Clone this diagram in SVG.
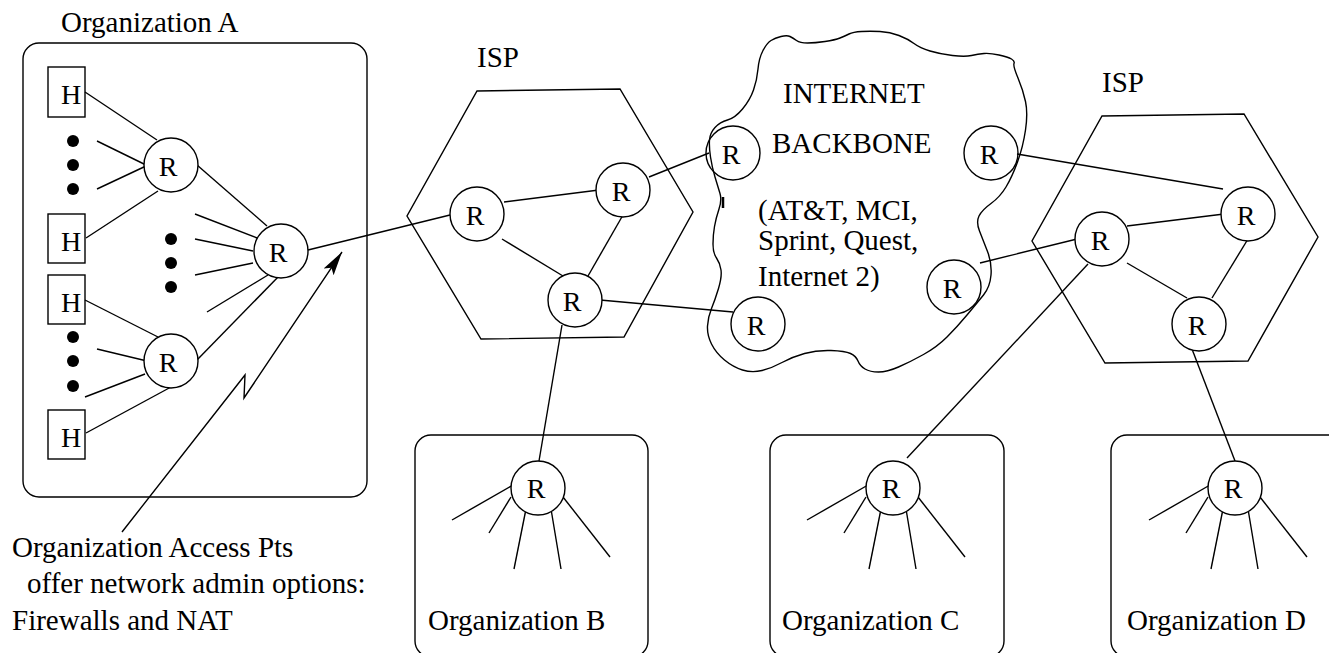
<svg xmlns="http://www.w3.org/2000/svg" width="1329" height="653" viewBox="0 0 1329 653">
<style>
text{font-family:"Liberation Serif","Times New Roman","DejaVu Serif",serif;fill:#000}
.lbl{font-size:29px}
.rt{font-size:28px;text-anchor:middle}
.sh{fill:none;stroke:#000;stroke-width:1.4}
.rc{fill:#fff;stroke:#000;stroke-width:1.4}
.ro{fill:none;stroke:#000;stroke-width:1.4}
.ln{stroke:#000;stroke-width:1.4;fill:none}
.dot{fill:#000}
</style>
<defs>
<marker id="ah" markerWidth="26" markerHeight="14" refX="24" refY="7" orient="auto" markerUnits="userSpaceOnUse">
<path d="M0,1 L24,7 L0,13 L5,7 Z" fill="#000"/>
</marker>
</defs>
<rect width="1329" height="653" fill="#fff"/>

<g id="orgA">
<rect class="sh" x="23" y="43" width="344" height="454" rx="16"/>
<text class="lbl" x="61" y="32">Organization A</text>
<g id="hA1"><rect class="sh" x="48" y="67" width="37" height="50"/><text class="rt" x="71" y="104">H</text></g>
<g id="hA2"><rect class="sh" x="48" y="214" width="37" height="49"/><text class="rt" x="71" y="251">H</text></g>
<g id="hA3"><rect class="sh" x="48" y="275" width="37" height="49"/><text class="rt" x="71" y="312">H</text></g>
<g id="hA4"><rect class="sh" x="48" y="410" width="37" height="49"/><text class="rt" x="71" y="447">H</text></g>
<circle class="dot" cx="73" cy="141" r="6"/><circle class="dot" cx="73" cy="165" r="6"/><circle class="dot" cx="73" cy="189" r="6"/>
<circle class="dot" cx="73" cy="337" r="6"/><circle class="dot" cx="73" cy="361" r="6"/><circle class="dot" cx="73" cy="386" r="6"/>
<circle class="dot" cx="171" cy="239" r="6"/><circle class="dot" cx="171" cy="263" r="6"/><circle class="dot" cx="171" cy="287" r="6"/>
</g>

<g id="connectors">
<line class="ln" x1="85" y1="92" x2="157" y2="140"/>
<line class="ln" x1="97" y1="141" x2="146" y2="165"/>
<line class="ln" x1="97" y1="189" x2="146" y2="166"/>
<line class="ln" x1="86" y1="238" x2="158" y2="191"/>
<line class="ln" x1="197" y1="165" x2="267" y2="226"/>
<line class="ln" x1="195" y1="214" x2="257" y2="238"/>
<line class="ln" x1="195" y1="239" x2="253" y2="251"/>
<line class="ln" x1="195" y1="275" x2="253" y2="263"/>
<line class="ln" x1="207" y1="312" x2="268" y2="275"/>
<line class="ln" x1="197" y1="360" x2="280" y2="275"/>
<line class="ln" x1="85" y1="300" x2="158" y2="337"/>
<line class="ln" x1="97" y1="349" x2="147" y2="361"/>
<line class="ln" x1="85" y1="397" x2="145" y2="374"/>
<line class="ln" x1="86" y1="433" x2="171" y2="387"/>
<line class="ln" x1="308" y1="250" x2="450" y2="215"/>
<polyline class="ln" points="122,532 245,375 244,398 342,252" marker-end="url(#ah)"/>
<line class="ln" x1="504" y1="202" x2="599" y2="190"/>
<line class="ln" x1="502" y1="239" x2="563" y2="276"/>
<line class="ln" x1="623" y1="215" x2="588" y2="276"/>
<line class="ln" x1="649" y1="177" x2="709" y2="153"/>
<line class="ln" x1="600" y1="300" x2="733" y2="312"/>
<line class="ln" x1="562" y1="325" x2="539" y2="461"/>
<line class="ln" x1="1017" y1="154" x2="1223" y2="189"/>
<line class="ln" x1="1127" y1="226" x2="1224" y2="214"/>
<line class="ln" x1="980" y1="263" x2="1077" y2="239"/>
<line class="ln" x1="1088" y1="264" x2="907" y2="458"/>
<line class="ln" x1="1127" y1="263" x2="1187" y2="298"/>
<line class="ln" x1="1248" y1="239" x2="1212" y2="298"/>
<line class="ln" x1="1187" y1="336" x2="1235" y2="461"/>
</g>

<g id="routersA">
<g id="rA1"><circle class="rc" cx="171" cy="165" r="27"/><text class="rt" x="168" y="176">R</text></g>
<g id="rA2"><circle class="rc" cx="281" cy="251" r="27"/><text class="rt" x="278" y="262">R</text></g>
<g id="rA3"><circle class="rc" cx="171" cy="361" r="27"/><text class="rt" x="168" y="372">R</text></g>
</g>

<g id="note">
<text class="lbl" x="12" y="557">Organization Access Pts</text>
<text class="lbl" x="27" y="593">offer network admin options:</text>
<text class="lbl" x="12" y="630">Firewalls and NAT</text>
</g>

<g id="isp1">
<polygon class="sh" points="477,91 620,89 693,212 624,337 481,339 407,216"/>
<text class="lbl" x="477" y="67">ISP</text>
<g id="rI1a"><circle class="rc" cx="477" cy="214" r="27"/><text class="rt" x="475" y="225">R</text></g>
<g id="rI1b"><circle class="rc" cx="623" cy="190" r="27"/><text class="rt" x="621" y="201">R</text></g>
<g id="rI1c"><circle class="rc" cx="575" cy="300" r="27"/><text class="rt" x="572" y="311">R</text></g>
</g>

<g id="backbone">
<path class="sh" d="M715,127.5 Q710,133 709.5,140 Q709,147 710.5,157 Q712,167 715,177 Q718,187 720,193.5 Q722,200 719,209 Q716,218 714.5,226.5 Q713,235 713,244 Q713,253 716.5,258 Q720,263 721,270 Q722,277 718.5,288.5 Q715,300 711.5,308.5 Q708,317 707.5,326 Q707,335 711.5,344 Q716,353 724.5,360 Q733,367 742.5,370 Q752,373 762,370.5 Q772,368 782,362.5 Q792,357 804.5,353.5 Q817,350 831,350.5 Q845,351 850.5,353.5 Q856,356 858,361 Q860,366 865,369 Q870,372 878.5,372 Q887,372 898.5,367 Q910,362 923.5,354.5 Q937,347 947,337 Q957,327 967,315 Q977,303 983.5,295 Q990,287 991,275 Q992,263 987.5,251.5 Q983,240 979.5,231 Q976,222 979,216 Q982,210 991,203.5 Q1000,197 1006,187 Q1012,177 1017.5,162 Q1023,147 1025.5,130 Q1028,113 1025.5,101.5 Q1023,90 1018,78 Q1013,66 1014,63.5 Q1015,61 1011.5,59 Q1008,57 999,55 Q990,53 984,53.5 Q978,54 971.5,55.5 Q965,57 952.5,55.5 Q940,54 930,51 Q920,48 914,43.5 Q908,39 899,35.5 Q890,32 880,31.5 Q870,31 861.5,31.5 Q853,32 849,34 Q845,36 840,38 Q835,40 825,41.5 Q815,43 807.5,43 Q800,43 796.5,40.5 Q793,38 790,36.5 Q787,35 781,36.5 Q775,38 771,40.5 Q767,43 763,50.5 Q759,58 758,69 Q757,80 753.5,90 Q750,100 742.5,109 Q735,118 727.5,120 Q720,122 715,127.5 Z"/>
<line x1="723" y1="197" x2="723" y2="208" stroke="#000" stroke-width="2.5"/>
<text class="lbl" x="783" y="103">INTERNET</text>
<text class="lbl" x="772" y="153">BACKBONE</text>
<text class="lbl" x="758" y="220">(AT&amp;T, MCI,</text>
<text class="lbl" x="758" y="250">Sprint, Quest,</text>
<text class="lbl" x="758" y="286">Internet 2)</text>
<g id="rB1"><circle class="ro" cx="733" cy="153" r="27"/><text class="rt" x="731" y="164">R</text></g>
<g id="rB2"><circle class="ro" cx="758" cy="324" r="27"/><text class="rt" x="756" y="335">R</text></g>
<g id="rB3"><circle class="ro" cx="991" cy="153" r="27"/><text class="rt" x="989" y="164">R</text></g>
<g id="rB4"><circle class="ro" cx="954" cy="287" r="27"/><text class="rt" x="952" y="298">R</text></g>
</g>

<g id="isp2">
<polygon class="sh" points="1102,116 1244,114 1318,237 1248,361 1105,363 1032,241"/>
<text class="lbl" x="1102" y="92">ISP</text>
<g id="rI2d"><circle class="rc" cx="1102" cy="239" r="27"/><text class="rt" x="1100" y="250">R</text></g>
<g id="rI2e"><circle class="rc" cx="1248" cy="214" r="27"/><text class="rt" x="1246" y="225">R</text></g>
<g id="rI2f"><circle class="rc" cx="1199" cy="324" r="27"/><text class="rt" x="1197" y="335">R</text></g>
</g>

<g id="orgB">
<rect class="sh" x="415" y="435" width="233" height="222" rx="16"/>
<line class="ln" x1="513" y1="485" x2="452" y2="520"/>
<line class="ln" x1="511" y1="497" x2="489" y2="533"/>
<line class="ln" x1="526" y1="509" x2="514" y2="569"/>
<line class="ln" x1="551" y1="509" x2="561" y2="569"/>
<line class="ln" x1="563" y1="497" x2="610" y2="557"/>
<circle class="rc" cx="538" cy="488" r="27"/><text class="rt" x="536" y="498">R</text>
<text class="lbl" x="428" y="630">Organization B</text>
</g>

<g id="orgC">
<rect class="sh" x="770" y="435" width="234" height="222" rx="16"/>
<line class="ln" x1="868" y1="485" x2="807" y2="520"/>
<line class="ln" x1="866" y1="497" x2="844" y2="533"/>
<line class="ln" x1="881" y1="509" x2="869" y2="569"/>
<line class="ln" x1="906" y1="509" x2="916" y2="569"/>
<line class="ln" x1="918" y1="497" x2="965" y2="557"/>
<circle class="rc" cx="893" cy="488" r="27"/><text class="rt" x="891" y="498">R</text>
<text class="lbl" x="782" y="630">Organization C</text>
</g>

<g id="orgD">
<rect class="sh" x="1111" y="435" width="300" height="222" rx="16"/>
<line class="ln" x1="1210" y1="485" x2="1149" y2="520"/>
<line class="ln" x1="1208" y1="497" x2="1186" y2="533"/>
<line class="ln" x1="1223" y1="509" x2="1211" y2="569"/>
<line class="ln" x1="1248" y1="509" x2="1258" y2="569"/>
<line class="ln" x1="1260" y1="497" x2="1307" y2="557"/>
<circle class="rc" cx="1235" cy="488" r="27"/><text class="rt" x="1233" y="498">R</text>
<text class="lbl" x="1127" y="630">Organization D</text>
</g>
</svg>
